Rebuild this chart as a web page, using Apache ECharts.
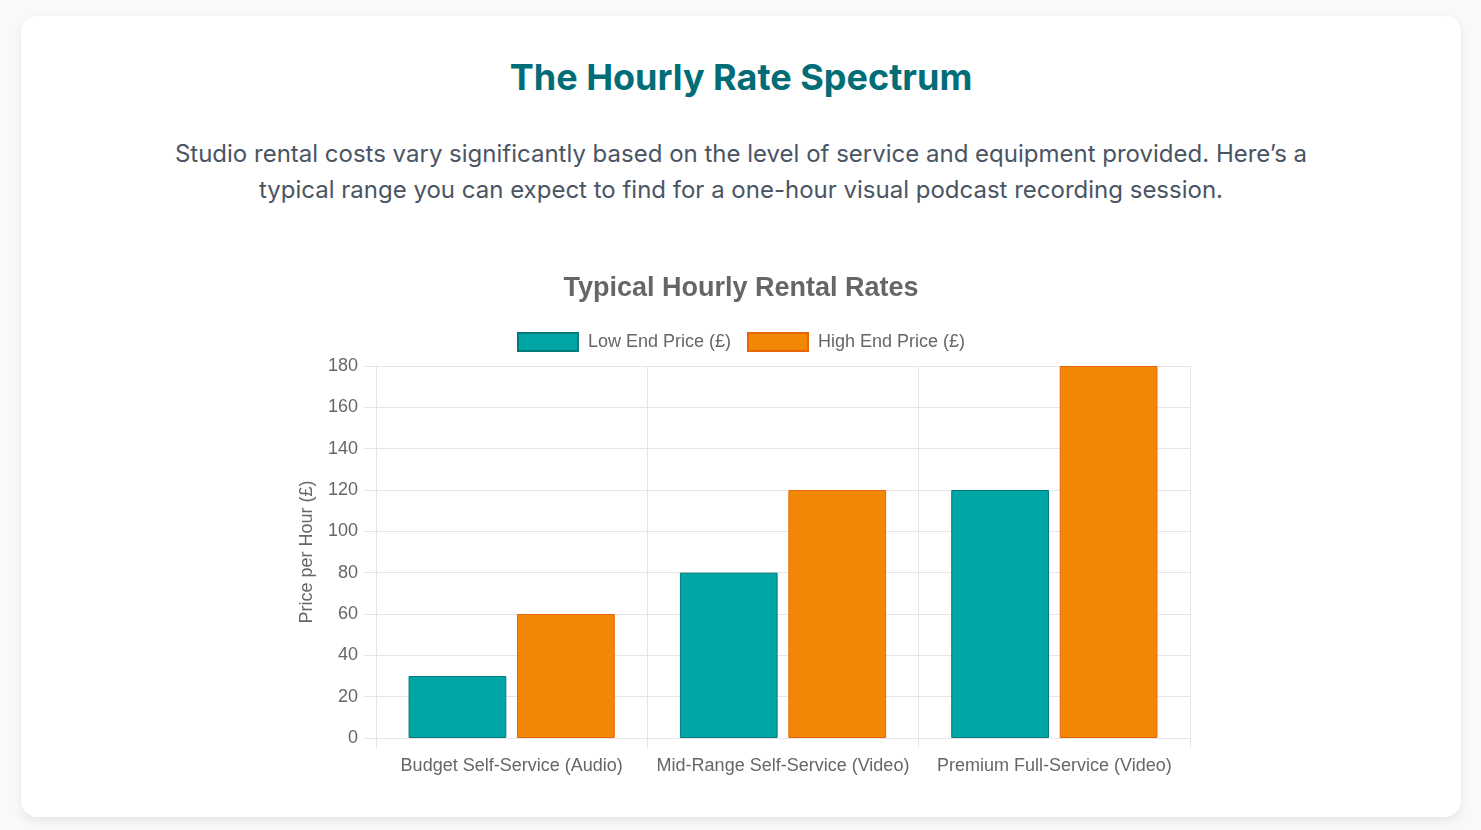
<!doctype html>
<html>
<head>
<meta charset="utf-8">
<script src="https://cdn.jsdelivr.net/npm/echarts@6/dist/echarts.min.js"></script>
<style>
    html, body { margin: 0; padding: 0; }
    body { background: #f8f9fa; width: 1481px; height: 830px; overflow: hidden; font-family: Inter, "Noto Sans", sans-serif; }
    .card {
        position: absolute; left: 21px; top: 16px; width: 1440px; height: 801px;
        background: #fff; border-radius: 16px;
        box-shadow: 0 4px 10px rgba(0, 0, 0, 0.08);
    }
    .card h2 {
        position: absolute; top: 38px; left: 0; width: 100%; margin: 0;
        text-align: center; font-size: 36px; font-weight: 700; color: #006d77; line-height: 46px;
    }
    .card p {
        position: absolute; top: 120px; left: 145px; width: 1150px; margin: 0;
        text-align: center; font-size: 24px; line-height: 36px; color: #4a5563;
    }
    #chart { position: absolute; left: 0; top: 234px; width: 1440px; height: 550px; }
</style>
</head>
<body>
<div class="card">
    <h2>The Hourly Rate Spectrum</h2>
    <p>Studio rental costs vary significantly based on the level of service and equipment provided. Here’s a typical range you can expect to find for a one-hour visual podcast recording session.</p>
    <div id="chart"></div>
</div>
<script>
    var categories = ['Budget Self-Service (Audio)', 'Mid-Range Self-Service (Video)', 'Premium Full-Service (Video)'];
    var lowPrices = [30, 80, 120];
    var highPrices = [60, 120, 180];

    var chart = echarts.init(document.getElementById('chart'));
    var gridColor = '#e5e5e5';
    var textFont = 'Liberation Sans, Arial, Helvetica, sans-serif';

    chart.setOption({
        animation: false,
        textStyle: { fontFamily: textFont },
        title: {
            text: 'Typical Hourly Rental Rates',
            left: 'center', top: 20,
            textStyle: { fontSize: 27, fontWeight: 'bold', color: '#666', fontFamily: textFont }
        },
        legend: {
            top: 77, left: 'center',
            itemWidth: 60, itemHeight: 18, itemGap: 16,
            icon: 'rect',
            textStyle: { fontSize: 18, color: '#666', padding: [0, 0, 0, 5] }
        },
        grid: { left: 355, right: 271, top: 116, bottom: 62 },
        xAxis: {
            type: 'category',
            data: categories,
            axisLine: { lineStyle: { color: gridColor } },
            axisTick: { show: true, interval: 0, length: 10, lineStyle: { color: gridColor } },
            splitLine: { show: true, interval: 0, lineStyle: { color: gridColor } },
            axisLabel: { interval: 0, fontSize: 18, color: '#666', margin: 19 }
        },
        yAxis: {
            type: 'value',
            min: 0, max: 180, interval: 20,
            name: 'Price per Hour (£)',
            nameLocation: 'middle',
            nameGap: 60,
            nameTextStyle: { fontSize: 18, color: '#666' },
            axisLine: { show: true, lineStyle: { color: gridColor } },
            axisTick: { show: true, length: 12, lineStyle: { color: gridColor } },
            splitLine: { lineStyle: { color: gridColor } },
            axisLabel: { fontSize: 18, color: '#666', margin: 18 }
        },
        series: [{
            name: 'Low End Price (£)',
            type: 'bar',
            data: lowPrices,
            barGap: '11%',
            barCategoryGap: '24%',
            itemStyle: { color: '#00a6a6', borderColor: '#007a7a', borderWidth: 1 }
        }, {
            name: 'High End Price (£)',
            type: 'bar',
            data: highPrices,
            itemStyle: { color: '#f28705', borderColor: '#e8650a', borderWidth: 1 }
        }]
    });
</script>
</body>
</html>
